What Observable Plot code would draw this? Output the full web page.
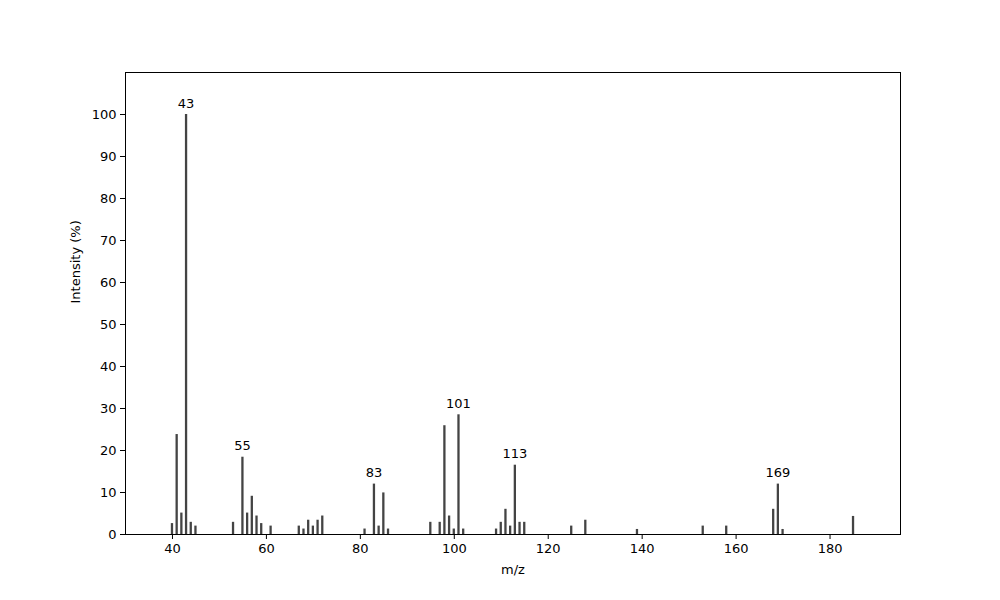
<!DOCTYPE html>
<html>
<head>
<meta charset="utf-8">
<script src="https://cdn.jsdelivr.net/npm/d3@7"></script>
<script src="https://cdn.jsdelivr.net/npm/@observablehq/plot@0.6"></script>
<style>
  body { margin: 0; background: #fff; }
  #chart svg { font-family: "DejaVu Sans", sans-serif; }
</style>
</head>
<body>
<div id="chart"></div>
<script>
const mz = [40,41,42,43,44,45,53,55,56,57,58,59,61,67,68,69,70,71,72,81,83,84,85,86,95,97,98,99,100,101,102,109,110,111,112,113,114,115,125,128,139,153,158,168,169,170,185];
const intensity = [2.6,23.8,5.1,100,2.9,2.0,2.9,18.4,5.1,9.1,4.4,2.6,2.0,2.0,1.3,3.4,2.0,3.4,4.4,1.3,12.0,2.0,9.9,1.3,2.9,2.9,25.9,4.4,1.3,28.5,1.3,1.3,2.9,6.0,2.0,16.5,2.9,2.9,2.0,3.4,1.2,2.0,2.0,6.0,12.0,1.2,4.3];
const labeled = [43,55,83,101,113,169];
const xTicks = [40,60,80,100,120,140,160,180];
const yTicks = [0,10,20,30,40,50,60,70,80,90,100];

const data = mz.map((m, i) => ({mz: m, v: intensity[i]}));
const labels = data.filter(d => labeled.includes(d.mz));

const chart = Plot.plot({
  width: 1000,
  height: 600,
  marginLeft: 125,
  marginRight: 100,
  marginTop: 72,
  marginBottom: 66,
  style: {fontFamily: "DejaVu Sans, sans-serif", fontSize: "13px", color: "#000", background: "#fff"},
  x: {domain: [30, 195]},
  y: {domain: [0, 110]},
  marks: [
    Plot.ruleX(data, {x: "mz", y1: 0, y2: "v", stroke: "#444", strokeWidth: 2.3, dx: -0.5}),
    Plot.text(labels, {x: "mz", y: "v", text: d => String(d.mz), dy: -7, dx: -0.5, lineAnchor: "bottom", fontSize: 13, fill: "#000"}),
    Plot.axisX({ticks: xTicks, tickSize: 5, tickPadding: 4, fontSize: 13, label: null, stroke: "#000"}),
    Plot.axisY({ticks: yTicks, tickSize: 5, tickPadding: 4, fontSize: 13, label: null, stroke: "#000"}),
    Plot.frame({stroke: "#000", strokeWidth: 1}),
    Plot.text(["m/z"], {frameAnchor: "bottom", dy: 39, fontSize: 13, fill: "#000"}),
    Plot.text(["Intensity (%)"], {frameAnchor: "left", dx: -50, rotate: -90, fontSize: 13, fill: "#000"})
  ]
});
document.getElementById("chart").appendChild(chart);
</script>
</body>
</html>
